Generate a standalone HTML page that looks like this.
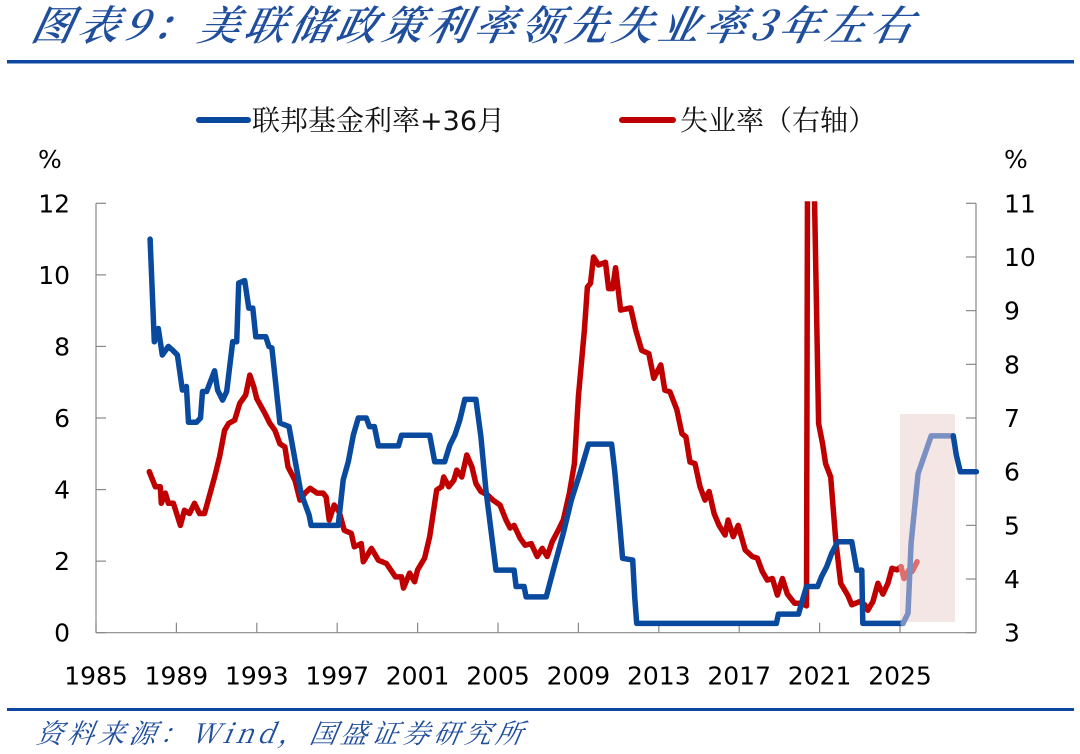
<!DOCTYPE html>
<html><head><meta charset="utf-8">
<style>
body{margin:0;background:#fff;width:1080px;height:750px;overflow:hidden;font-family:"DejaVu Sans","Noto Sans CJK SC",sans-serif;}
</style></head>
<body>
<svg width="1080" height="750" viewBox="0 0 1080 750" id="chart">
<text x="30" y="40" font-family="'Noto Serif CJK SC','WenQuanYi Zen Hei',serif" font-style="italic" font-weight="600" font-size="41" letter-spacing="5" fill="#1f4e9c" transform="skewX(-12) translate(8,0)">图表9：美联储政策利率领先失业率3年左右</text>
<rect x="7" y="60" width="1067" height="3.5" fill="#0d47a1"/>
<rect x="7" y="708" width="1067" height="3" fill="#0d47a1"/>
<text x="36" y="743" font-family="'Noto Serif CJK SC','Liberation Sans',serif" font-style="italic" font-size="27" letter-spacing="4" fill="#1f4e9c" transform="skewX(-10) translate(130,0)">资料来源：Wind，国盛证券研究所</text>
<g>
<line x1="199" y1="120" x2="248" y2="120" stroke="#0a4a9e" stroke-width="6" stroke-linecap="round"/>
<text x="252" y="130" font-size="28" fill="#111" font-family="'Noto Serif CJK SC','DejaVu Sans',serif">联邦基金利率<tspan font-family="'DejaVu Sans',sans-serif" font-size="27">+36</tspan>月</text>
<line x1="622" y1="120" x2="673" y2="120" stroke="#c00000" stroke-width="6" stroke-linecap="round"/>
<text x="680" y="130" font-size="28" fill="#111" font-family="'Noto Serif CJK SC','DejaVu Sans',serif">失业率（右轴）</text>
</g>
<text x="38" y="168" font-size="25" fill="#000">%</text>
<text x="1004" y="168" font-size="25" fill="#000">%</text>
<rect x="900" y="414" width="55" height="208" fill="#f5e6e6"/>
<g id="axes"></g>
<g id="series"></g>
</svg>
<script>
const leftTicks=[0,2,4,6,8,10,12];
const rightTicks=[3,4,5,6,7,8,9,10,11];
const yearTicks=[1985,1989,1993,1997,2001,2005,2009,2013,2017,2021,2025];
const fedYears=[1987.69,1987.9,1988.1,1988.3,1988.6,1988.8,1989.05,1989.3,1989.5,1989.6,1990.0,1990.2,1990.3,1990.5,1990.9,1991.05,1991.3,1991.5,1991.8,1992.0,1992.1,1992.4,1992.6,1992.8,1992.95,1993.45,1993.6,1993.75,1994.15,1994.6,1994.9,1995.2,1995.6,1995.7,1997.05,1997.3,1997.55,1997.8,1998.05,1998.45,1998.6,1998.85,1999.05,2000.05,2000.2,2001.6,2001.85,2002.35,2002.6,2002.85,2003.1,2003.35,2003.9,2004.15,2004.4,2004.9,2005.8,2005.9,2006.3,2006.4,2007.4,2007.75,2008.25,2008.65,2009.1,2009.5,2010.65,2010.8,2011.05,2011.2,2011.7,2011.8,2011.9,2018.85,2018.95,2019.95,2020.1,2020.35,2020.9,2021.1,2021.35,2021.6,2021.9,2022.6,2022.85,2023.1,2023.15,2025.15,2025.4,2025.55,2025.9,2026.25,2026.55,2027.65,2027.8,2028.0,2028.8];
const fedValues=[11.0,8.13,8.5,7.76,8.0,7.9,7.76,6.78,6.88,5.88,5.88,6.0,6.74,6.74,7.32,6.78,6.5,6.74,8.13,8.13,9.77,9.84,9.07,9.07,8.27,8.27,8.0,7.96,5.86,5.76,4.83,3.9,3.29,3.0,3.0,4.27,4.78,5.52,6.0,6.0,5.76,5.76,5.22,5.22,5.52,5.52,4.78,4.78,5.24,5.52,5.94,6.52,6.52,5.48,3.99,1.75,1.75,1.29,1.29,1.0,1.0,1.75,2.78,3.71,4.5,5.27,5.27,4.55,3.06,2.08,2.03,1.0,0.26,0.26,0.52,0.52,0.82,1.29,1.29,1.57,1.84,2.22,2.54,2.54,1.75,1.75,0.26,0.26,0.54,2.5,4.45,5.01,5.5,5.5,4.97,4.5,4.5];
const unYears=[1987.65,1987.95,1988.2,1988.25,1988.45,1988.6,1988.85,1989.2,1989.4,1989.65,1989.9,1990.15,1990.4,1990.9,1991.15,1991.4,1991.6,1991.9,1992.15,1992.45,1992.65,1992.85,1993.0,1993.4,1993.65,1993.9,1994.15,1994.4,1994.55,1994.9,1995.15,1995.4,1995.65,1996.0,1996.3,1996.45,1996.6,1996.85,1997.1,1997.35,1997.7,1997.85,1998.2,1998.3,1998.7,1999.05,1999.45,1999.9,2000.2,2000.3,2000.6,2000.85,2001.0,2001.35,2001.6,2001.95,2002.2,2002.3,2002.55,2002.8,2002.95,2003.2,2003.45,2003.7,2003.9,2004.15,2004.5,2004.75,2005.1,2005.4,2005.6,2005.8,2006.1,2006.35,2006.65,2006.95,2007.2,2007.45,2007.7,2008.0,2008.25,2008.55,2008.8,2009.0,2009.3,2009.45,2009.6,2009.75,2010.0,2010.35,2010.5,2010.7,2010.85,2011.1,2011.6,2011.85,2012.15,2012.5,2012.75,2013.1,2013.3,2013.55,2013.9,2014.15,2014.35,2014.55,2014.8,2015.05,2015.3,2015.5,2015.75,2016.0,2016.3,2016.45,2016.7,2016.95,2017.3,2017.65,2017.9,2018.15,2018.4,2018.65,2018.9,2019.15,2019.4,2019.75,2020.05,2020.25,2020.35,2020.42,2020.55,2020.75,2020.95,2021.15,2021.3,2021.55,2021.8,2022.05,2022.4,2022.6,2023.0,2023.25,2023.4,2023.65,2023.9,2024.15,2024.4,2024.6,2024.85,2025.05,2025.2,2025.45,2025.6,2025.85];
const unValues=[6.0,5.72,5.72,5.41,5.6,5.41,5.41,5.0,5.28,5.22,5.41,5.22,5.22,5.9,6.28,6.77,6.9,6.96,7.27,7.43,7.8,7.58,7.36,7.09,6.9,6.77,6.52,6.46,6.09,5.84,5.47,5.6,5.69,5.6,5.6,5.53,5.1,5.38,5.25,4.91,4.85,4.6,4.66,4.32,4.57,4.35,4.29,4.04,4.04,3.83,4.11,3.95,4.17,4.39,4.79,5.66,5.72,5.9,5.72,5.84,6.03,5.9,6.31,6.09,5.78,5.63,5.56,5.47,5.38,5.1,4.95,5.0,4.76,4.63,4.66,4.42,4.57,4.42,4.7,4.91,5.1,5.6,6.15,7.4,8.64,9.44,9.51,10.0,9.85,9.9,9.41,9.41,9.8,9.01,9.05,8.64,8.26,8.2,7.74,7.99,7.52,7.49,7.15,6.71,6.65,6.18,6.15,5.72,5.47,5.63,5.22,5.0,4.82,5.1,4.79,5.0,4.54,4.42,4.39,4.14,3.98,4.01,3.7,4.01,3.72,3.55,3.55,3.52,3.5,14.7,13.5,11.0,6.9,6.52,6.15,5.9,4.73,3.92,3.7,3.52,3.58,3.52,3.42,3.58,3.92,3.72,3.92,4.2,4.17,4.23,4.01,4.17,4.14,4.32];

const X0=96, PX=20.1, YB=632.7, YT=203.3;
const xS=y=>X0+(y-1985)*PX;
const yL=v=>YB-v*(YB-YT)/12;
const yR=v=>YB-(v-3)*(YB-YT)/8;
const NS='http://www.w3.org/2000/svg';
const svg=document.getElementById('chart');
const axes=document.getElementById('axes');
const ser=document.getElementById('series');
function mk(tag,attrs,parent){const e=document.createElementNS(NS,tag);for(const k in attrs)e.setAttribute(k,attrs[k]);parent.appendChild(e);return e;}
const defs=mk('defs',{},svg);
const cp=mk('clipPath',{id:'plotclip'},defs);
mk('rect',{x:60,y:YT-2,width:980,height:YB-YT+10},cp);
const la=mk('line',{x1:X0,y1:YT,x2:X0,y2:YB,stroke:'#888','stroke-width':1.2},axes);


const ra=mk('line',{x1:976,y1:YT,x2:976,y2:YB,stroke:'#888','stroke-width':1.2},axes);


const ba=mk('line',{x1:X0,y1:YB,x2:976,y2:YB,stroke:'#888','stroke-width':1.2},axes);


leftTicks.forEach(v=>{
  mk('line',{x1:X0,y1:yL(v),x2:X0+10,y2:yL(v),stroke:'#888','stroke-width':1.2},axes);
  const t=mk('text',{x:X0-26,y:yL(v)+9,'text-anchor':'end','font-size':25,fill:'#000'},axes);
  t.textContent=v;
  
  
});
rightTicks.forEach(v=>{
  mk('line',{x1:966,y1:yR(v),x2:976,y2:yR(v),stroke:'#888','stroke-width':1.2},axes);
  const t=mk('text',{x:1004,y:yR(v)+9,'text-anchor':'start','font-size':25,fill:'#000'},axes);
  t.textContent=v;
  
  
});
yearTicks.forEach(y=>{
  mk('line',{x1:xS(y),y1:YB,x2:xS(y),y2:YB-10,stroke:'#888','stroke-width':1.2},axes);
  const t=mk('text',{x:xS(y),y:YB+52,'text-anchor':'middle','font-size':25,fill:'#000'},axes);
  t.textContent=y;
  
  
});
function pts(xs,vs,f,lo,hi){const o=[];for(let i=0;i<xs.length;i++){if(xs[i]>=lo&&xs[i]<=hi)o.push(xS(xs[i]).toFixed(1)+','+f(vs[i]).toFixed(1));}return o.join(' ');}
const g=mk('g',{'clip-path':'url(#plotclip)'},ser);
const r1=mk('polyline',{points:pts(unYears,unValues,yR,0,2025.05),fill:'none',stroke:'#c00000','stroke-width':5.5,'stroke-linejoin':'round','stroke-linecap':'round'},g);


const r2=mk('polyline',{points:pts(unYears,unValues,yR,2025.05,3000),fill:'none',stroke:'#dc6e6e','stroke-width':5.5,'stroke-linejoin':'round','stroke-linecap':'round'},g);


const b1=mk('polyline',{points:pts(fedYears,fedValues,yL,0,2025.15),fill:'none',stroke:'#0a4a9e','stroke-width':5.5,'stroke-linejoin':'round','stroke-linecap':'round'},g);


const b2=mk('polyline',{points:pts(fedYears,fedValues,yL,2025.15,2027.65),fill:'none',stroke:'#7a8fc2','stroke-width':5.5,'stroke-linejoin':'round','stroke-linecap':'round'},g);


const b3=mk('polyline',{points:pts(fedYears,fedValues,yL,2027.65,3000),fill:'none',stroke:'#0a4a9e','stroke-width':5.5,'stroke-linejoin':'round','stroke-linecap':'round'},g);


</script>
</body></html>
